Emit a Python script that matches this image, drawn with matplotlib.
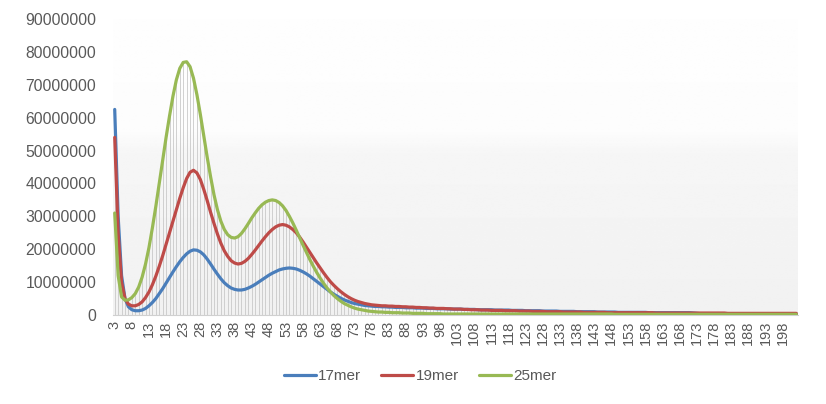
#!/usr/bin/env python3
#
# k-mer depth distribution: 17mer / 19mer / 25mer (values in millions)
#
import matplotlib
matplotlib.use('Agg')
import matplotlib.pyplot as plt
import numpy as np

plt.rcParams['font.family'] = ['Liberation Sans', 'DejaVu Sans']

# Depth categories 3..202
depth = list(range(3, 203))

# 17mer, millions
mer17 = [
    62.5, 30.0, 12.0, 5.0, 2.5, 1.6, 1.3, 1.3, 1.5, 2.0,
    2.8, 3.8, 5.0, 6.5, 8.0, 9.7, 11.4, 13.1, 14.7, 16.2,
    17.5, 18.6, 19.4, 19.8, 19.7, 19.2, 18.3, 17.0, 15.5, 13.9,
    12.4, 11.0, 9.8, 8.9, 8.2, 7.8, 7.6, 7.6, 7.8, 8.2,
    8.7, 9.3, 10.0, 10.7, 11.4, 12.1, 12.7, 13.2, 13.7, 14.0,
    14.2, 14.3, 14.2, 14.0, 13.6, 13.1, 12.5, 11.8, 11.0, 10.2,
    9.4, 8.6, 7.8, 7.0, 6.3, 5.7, 5.1, 4.6, 4.2, 3.8,
    3.5, 3.3, 3.1, 2.9, 2.8, 2.7,
    2.6, 2.6, 2.5, 2.5, 2.4, 2.4, 2.3, 2.3, 2.3, 2.2,
    2.2, 2.2, 2.1, 2.1, 2.1, 2.0, 2.0, 2.0, 1.9, 1.9,
    1.9, 1.9, 1.8, 1.8, 1.8, 1.8, 1.7, 1.7, 1.7, 1.7,
    1.6, 1.6, 1.6, 1.6, 1.6, 1.5, 1.5, 1.5, 1.5, 1.5,
    1.4, 1.4, 1.4, 1.4, 1.3, 1.3, 1.3, 1.3, 1.3, 1.2,
    1.2, 1.2, 1.2, 1.2, 1.1, 1.1, 1.1, 1.1, 1.1, 1.0,
    1.0, 1.0, 1.0, 1.0, 1.0, 0.9, 0.9, 0.9, 0.9, 0.9,
    0.9, 0.8, 0.8, 0.8, 0.8, 0.8, 0.8, 0.8, 0.8, 0.8,
    0.7, 0.7, 0.7, 0.7, 0.7, 0.7, 0.7, 0.7, 0.7, 0.7,
    0.7, 0.7, 0.7, 0.6, 0.5, 0.4, 0.4, 0.4, 0.4, 0.4,
    0.4, 0.4, 0.4, 0.4, 0.4, 0.4, 0.4, 0.4, 0.4, 0.4,
    0.4, 0.4, 0.4, 0.4, 0.4, 0.4, 0.4, 0.4, 0.3, 0.3,
    0.3, 0.3, 0.3, 0.3,
]

# 19mer, millions
mer19 = [
    54.0, 25.0, 10.0, 5.0, 3.3, 2.8, 2.8, 3.2, 4.0, 5.3,
    7.0, 9.2, 11.8, 14.8, 18.0, 21.5, 25.0, 28.5, 32.0, 35.5,
    38.7, 41.5, 43.4, 44.0, 43.2, 41.2, 38.2, 34.8, 31.2, 27.8,
    24.6, 21.8, 19.5, 17.8, 16.5, 15.8, 15.5, 15.7, 16.3, 17.2,
    18.4, 19.7, 21.1, 22.5, 23.8, 25.0, 26.0, 26.8, 27.3, 27.5,
    27.3, 26.8, 26.0, 25.0, 23.7, 22.2, 20.6, 19.0, 17.4, 15.8,
    14.3, 12.8, 11.4, 10.1, 9.0, 8.0, 7.1, 6.3, 5.6, 5.0,
    4.5, 4.1, 3.8, 3.5, 3.3, 3.1,
    3.0, 2.9, 2.8, 2.8, 2.7, 2.7, 2.6, 2.6, 2.5, 2.5,
    2.4, 2.4, 2.3, 2.3, 2.2, 2.2, 2.1, 2.1, 2.0, 2.0,
    2.0, 1.9, 1.9, 1.8, 1.8, 1.8, 1.7, 1.7, 1.6, 1.6,
    1.6, 1.5, 1.5, 1.5, 1.4, 1.4, 1.4, 1.4, 1.3, 1.3,
    1.3, 1.3, 1.2, 1.2, 1.2, 1.2, 1.1, 1.1, 1.1, 1.1,
    1.0, 1.0, 1.0, 1.0, 1.0, 0.9, 0.9, 0.9, 0.9, 0.9,
    0.9, 0.8, 0.8, 0.8, 0.8, 0.8, 0.8, 0.8, 0.7, 0.7,
    0.7, 0.7, 0.7, 0.7, 0.7, 0.7, 0.7, 0.7, 0.7, 0.7,
    0.7, 0.7, 0.6, 0.6, 0.6, 0.6, 0.6, 0.6, 0.6, 0.6,
    0.6, 0.6, 0.6, 0.6, 0.6, 0.6, 0.6, 0.6, 0.6, 0.6,
    0.6, 0.6, 0.6, 0.5, 0.5, 0.5, 0.5, 0.5, 0.5, 0.5,
    0.5, 0.5, 0.5, 0.5, 0.5, 0.5, 0.5, 0.5, 0.5, 0.5,
    0.5, 0.5, 0.5, 0.5,
]

# 25mer, millions
mer25 = [
    31.0, 12.0, 5.5, 4.5, 4.6, 5.3, 6.5, 8.5, 11.5, 15.5,
    20.5, 26.5, 33.0, 40.0, 47.0, 54.0, 60.5, 66.5, 71.5, 75.0,
    76.8, 77.0, 75.5, 72.0, 67.0, 61.0, 54.5, 48.0, 42.0, 36.5,
    32.0, 28.5, 26.0, 24.4, 23.6, 23.4, 23.8, 24.8, 26.2, 27.8,
    29.5, 31.0, 32.4, 33.5, 34.3, 34.8, 35.0, 34.8, 34.2, 33.2,
    31.8, 30.0, 28.0, 25.8, 23.5, 21.2, 19.0, 16.8, 14.8, 12.9,
    11.2, 9.6, 8.2, 7.0, 5.9, 5.0, 4.2, 3.5, 3.0, 2.5,
    2.1, 1.8, 1.6, 1.4, 1.2, 1.1,
    1.0, 0.9, 0.9, 0.8, 0.8, 0.7, 0.7, 0.7, 0.6, 0.6,
    0.6, 0.5, 0.5, 0.5, 0.5, 0.4, 0.4, 0.4, 0.4, 0.4,
    0.3, 0.3, 0.3, 0.3, 0.3, 0.3, 0.3, 0.3, 0.3, 0.3,
    0.3, 0.3, 0.3, 0.3, 0.3, 0.3, 0.3, 0.3, 0.3, 0.3,
    0.3, 0.3, 0.3, 0.3, 0.3, 0.3, 0.3, 0.3, 0.3, 0.3,
    0.3, 0.3, 0.3, 0.3, 0.3, 0.3, 0.3, 0.3, 0.3, 0.3,
    0.3, 0.3, 0.3, 0.3, 0.3, 0.3, 0.3, 0.3, 0.3, 0.3,
    0.2, 0.2, 0.2, 0.2, 0.2, 0.2, 0.2, 0.2, 0.2, 0.2,
    0.2, 0.2, 0.2, 0.2, 0.2, 0.2, 0.2, 0.2, 0.2, 0.2,
    0.2, 0.2, 0.2, 0.2, 0.2, 0.2, 0.2, 0.2, 0.2, 0.2,
    0.2, 0.2, 0.2, 0.2, 0.2, 0.2, 0.2, 0.2, 0.2, 0.2,
    0.2, 0.2, 0.2, 0.2, 0.2, 0.2, 0.2, 0.2, 0.2, 0.2,
    0.2, 0.2, 0.2, 0.2,
]

series = [('17mer', mer17, '#4a7ebb'),
          ('19mer', mer19, '#be4b48'),
          ('25mer', mer25, '#98b954')]

x = np.array(depth)
scale = 1e6
ys = [np.array(v) * scale for _, v, _ in series]
ytop = np.max(ys, axis=0)

#
# Create figure
#
fig = plt.figure(figsize=(8.26, 4.04), dpi=100)
ax = fig.add_axes([113 / 826, 1 - 315 / 404, 685 / 826, 296 / 404])

xlim = (x[0] - 0.5, x[-1] + 0.5)
ylim = (0, 90e6)
ax.set_xlim(*xlim)
ax.set_ylim(*ylim)

# Plot-area gradient: white on top, light grey at the bottom
grad = np.interp(np.linspace(1, 0, 200), [0, 0.55, 0.62, 1],
                 [0.945, 0.965, 0.99, 0.995])
img = np.repeat(grad[:, None], 2, axis=1)
ax.imshow(img, cmap='gray', vmin=0, vmax=1, aspect='auto',
          extent=(*xlim, *ylim), zorder=0, interpolation='bilinear')

# Drop lines
ax.vlines(x, 0, ytop, color='#c9c9c9', lw=0.6, zorder=1)

for (name, _, col), y in zip(series, ys):
    ax.plot(x, y, color=col, lw=2.3, label=name, zorder=3,
            solid_capstyle='round', solid_joinstyle='round')

for s in ax.spines.values():
    s.set_visible(False)
ax.spines['bottom'].set_visible(True)
ax.spines['bottom'].set_color('#d0d0d0')

ax.set_yticks(np.arange(0, 90e6 + 1, 10e6))
ax.set_yticklabels([f'{int(v)}' for v in np.arange(0, 90e6 + 1, 10e6)])
ax.set_xticks(x[::5])
ax.set_xticklabels([str(v) for v in x[::5]], rotation=90)
ax.tick_params(axis='y', length=0, pad=12, labelsize=11.3, labelcolor='#595959')
ax.tick_params(axis='x', length=0, pad=4, labelsize=10.5, labelcolor='#595959')

fig.legend(loc='center', bbox_to_anchor=(420 / 826, 1 - 376 / 404),
           ncol=3, frameon=False, fontsize=11, handlelength=2.1,
           handletextpad=0.15, columnspacing=1.3, labelcolor='#595959')

fig.savefig('out.png', dpi=100)
